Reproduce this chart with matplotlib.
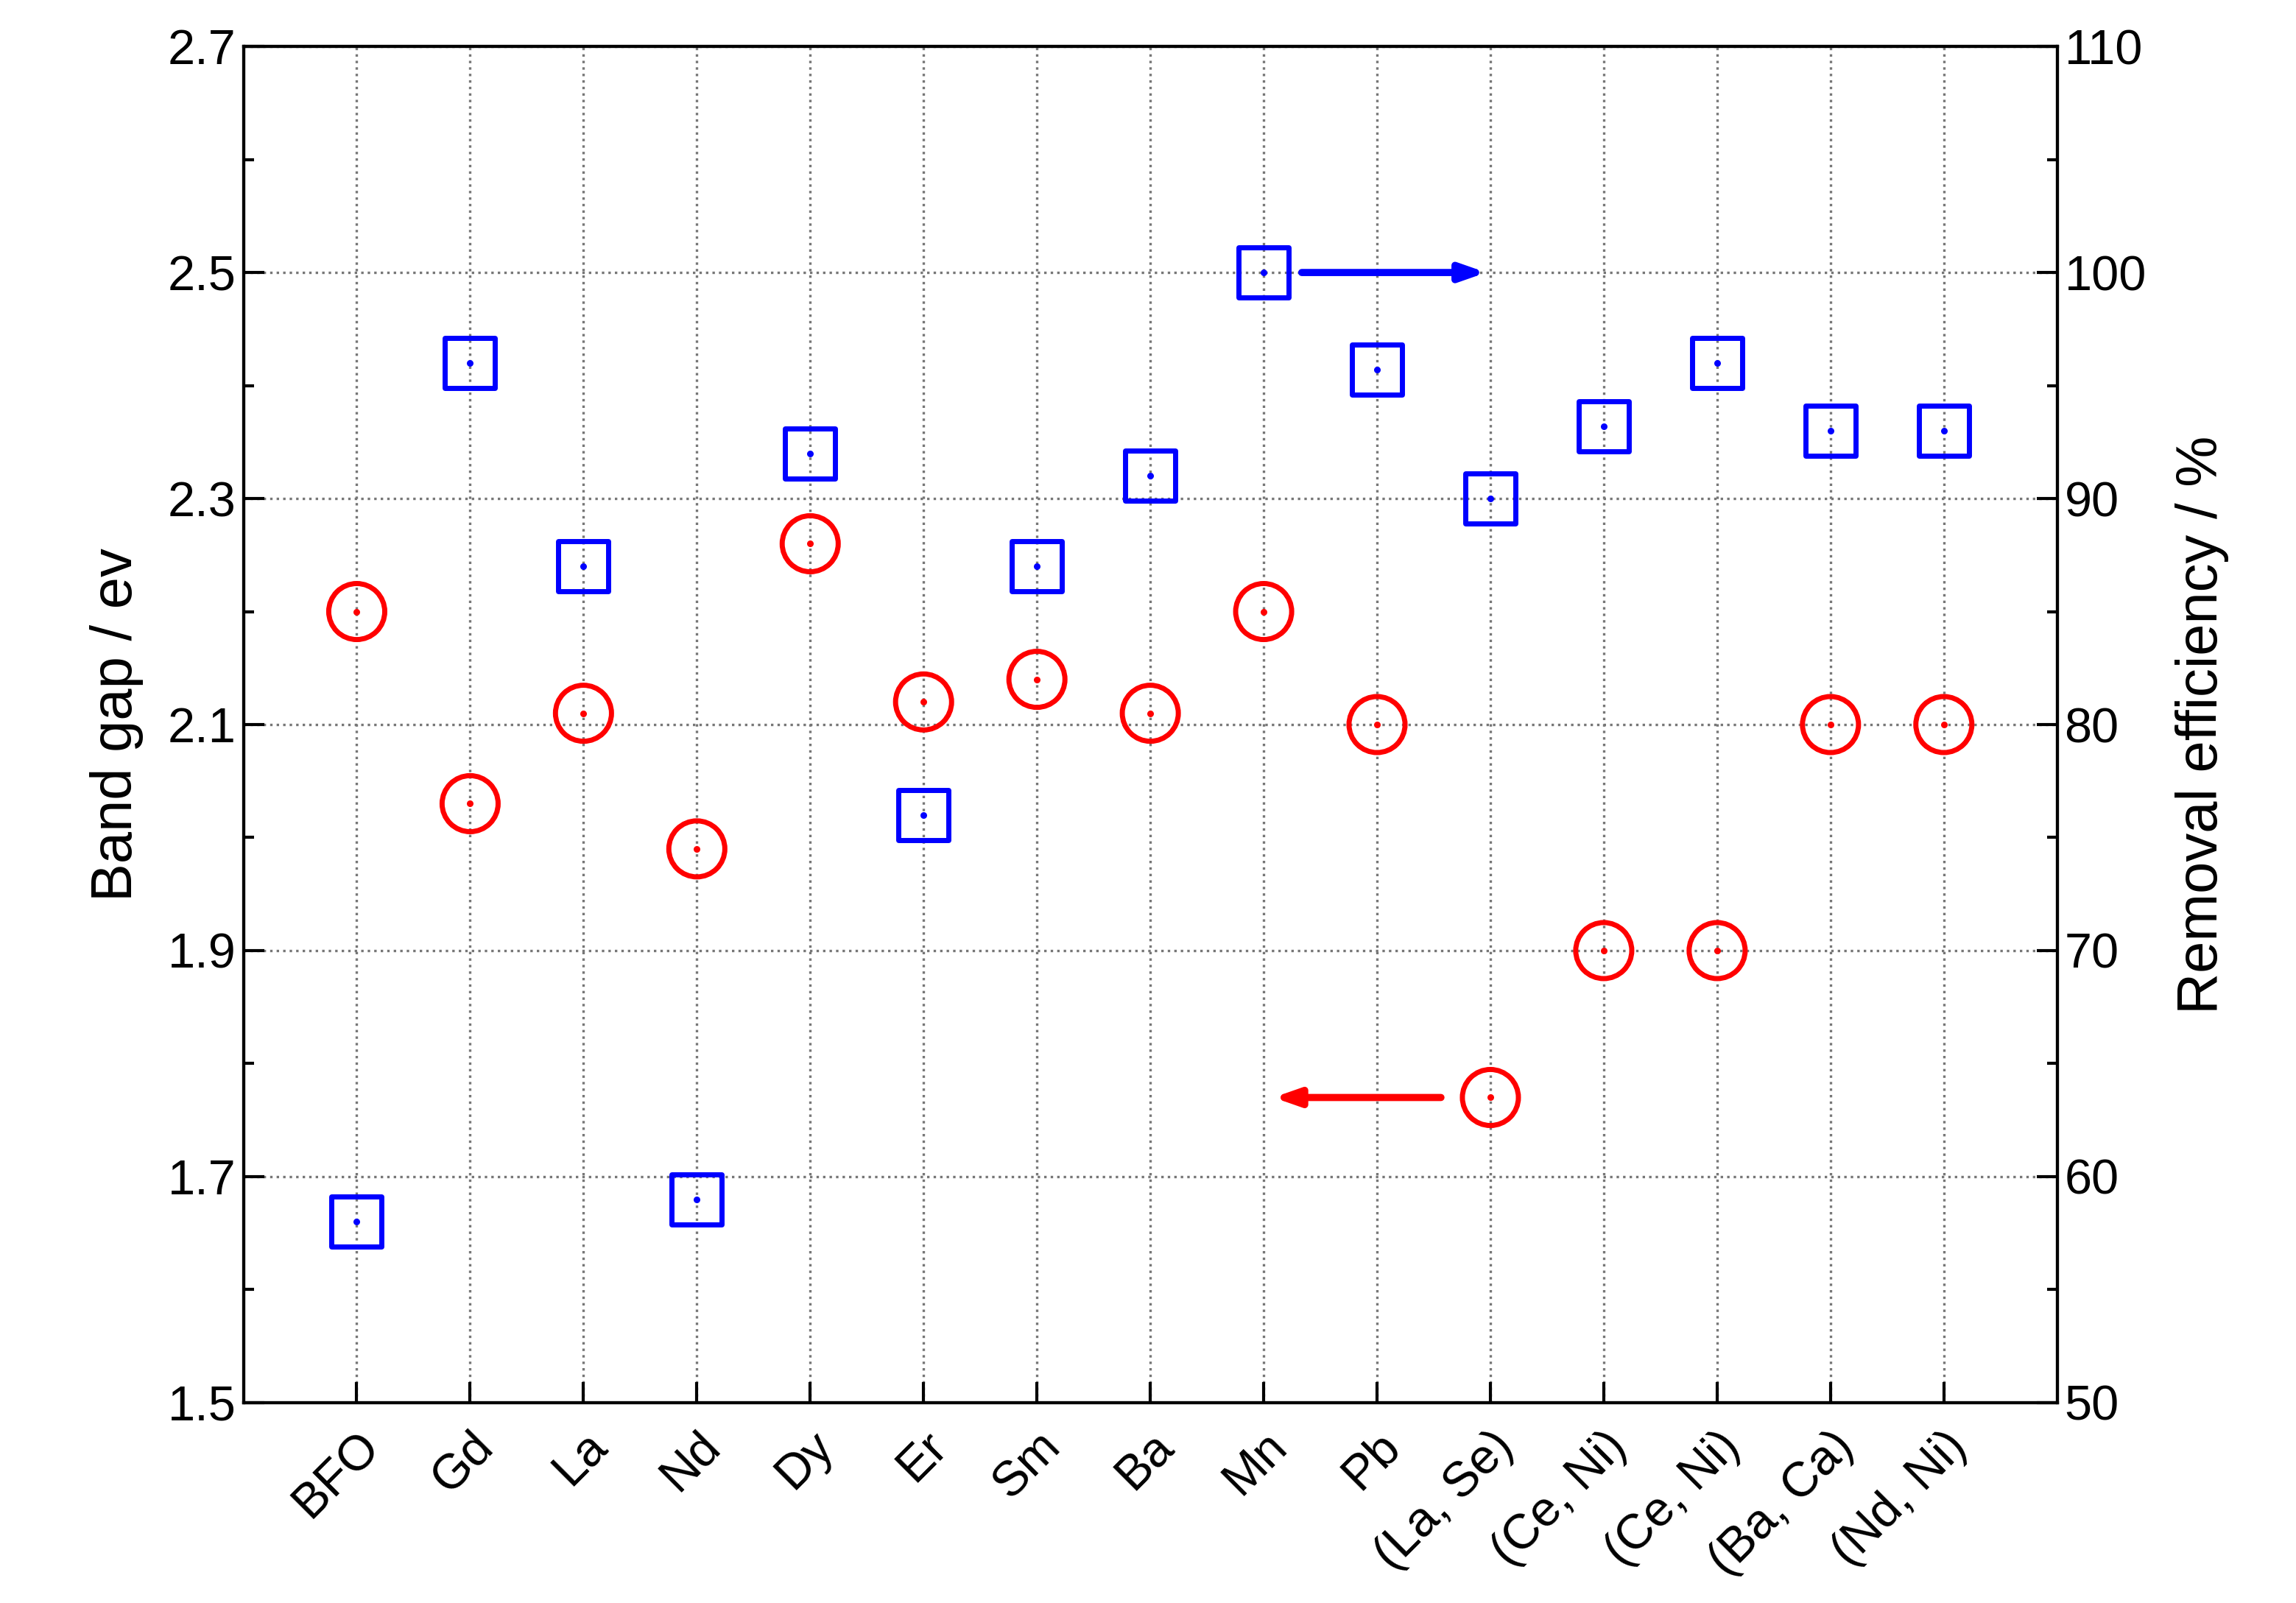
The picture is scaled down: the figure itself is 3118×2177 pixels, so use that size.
import matplotlib
matplotlib.use("Agg")
import matplotlib.pyplot as plt
from matplotlib.ticker import MultipleLocator

plt.rcParams["font.family"] = ["Liberation Sans", "DejaVu Sans"]

dopants = ["BFO", "Gd", "La", "Nd", "Dy", "Er", "Sm", "Ba", "Mn", "Pb",
           "(La, Se)", "(Ce, Ni)", "(Ce, Ni)", "(Ba, Ca)", "(Nd, Ni)"]
band_gap = [2.20, 2.03, 2.11, 1.99, 2.26, 2.12, 2.14, 2.11, 2.20, 2.10,
            1.77, 1.90, 1.90, 2.10, 2.10]
removal = [58, 96, 87, 59, 92, 76, 87, 91, 100, 95.7,
           90, 93.2, 96, 93, 93]
left_ticks = [1.5, 1.7, 1.9, 2.1, 2.3, 2.5, 2.7]

fig = plt.figure(figsize=(15.59, 10.885), dpi=200)
ax = fig.add_axes([0.106, 0.125, 0.790, 0.846])
ax2 = ax.twinx()
x = list(range(len(dopants)))

ax.scatter(x, band_gap, s=750, facecolors="none", edgecolors="red", linewidths=2.5, zorder=3)
ax.scatter(x, band_gap, s=5, color="red", zorder=4)
ax2.scatter(x, removal, s=600, marker="s", facecolors="none", edgecolors="blue", linewidths=2.5, zorder=3)
ax2.scatter(x, removal, s=5, color="blue", zorder=4)

ax.set_xlim(-1, len(dopants))
ax.set_ylim(1.5, 2.7)
ax2.set_ylim(50, 110)
ax.set_yticks(left_ticks)
ax.yaxis.set_minor_locator(MultipleLocator(0.1))
ax2.yaxis.set_major_locator(MultipleLocator(10))
ax2.yaxis.set_minor_locator(MultipleLocator(5))
ax.set_xticks(x)
ax.set_xticklabels(dopants, rotation=45, ha="right", rotation_mode="anchor")
ax.grid(True, which="major", linestyle=":", color="#777777", linewidth=1.2)

for a in (ax, ax2):
    a.tick_params(which="major", direction="in", length=10, width=1.5, labelsize=24)
    a.tick_params(which="minor", direction="in", length=5, width=1.5)
    for s in a.spines.values():
        s.set_linewidth(1.5)
ax.tick_params(axis="x", pad=10)

ax.set_ylabel("Band gap / ev", fontsize=28, labelpad=12)
ax2.set_ylabel("Removal efficiency / %", fontsize=28, labelpad=14)

ax2.annotate("", xy=(10.0, 100), xytext=(8.3, 100),
             arrowprops=dict(arrowstyle="-|>,head_length=1.0,head_width=0.35", color="blue", lw=3.5))
ax.annotate("", xy=(8.05, 1.77), xytext=(9.6, 1.77),
            arrowprops=dict(arrowstyle="-|>,head_length=1.0,head_width=0.35", color="red", lw=3.5))

fig.savefig("out.png", dpi=200)
